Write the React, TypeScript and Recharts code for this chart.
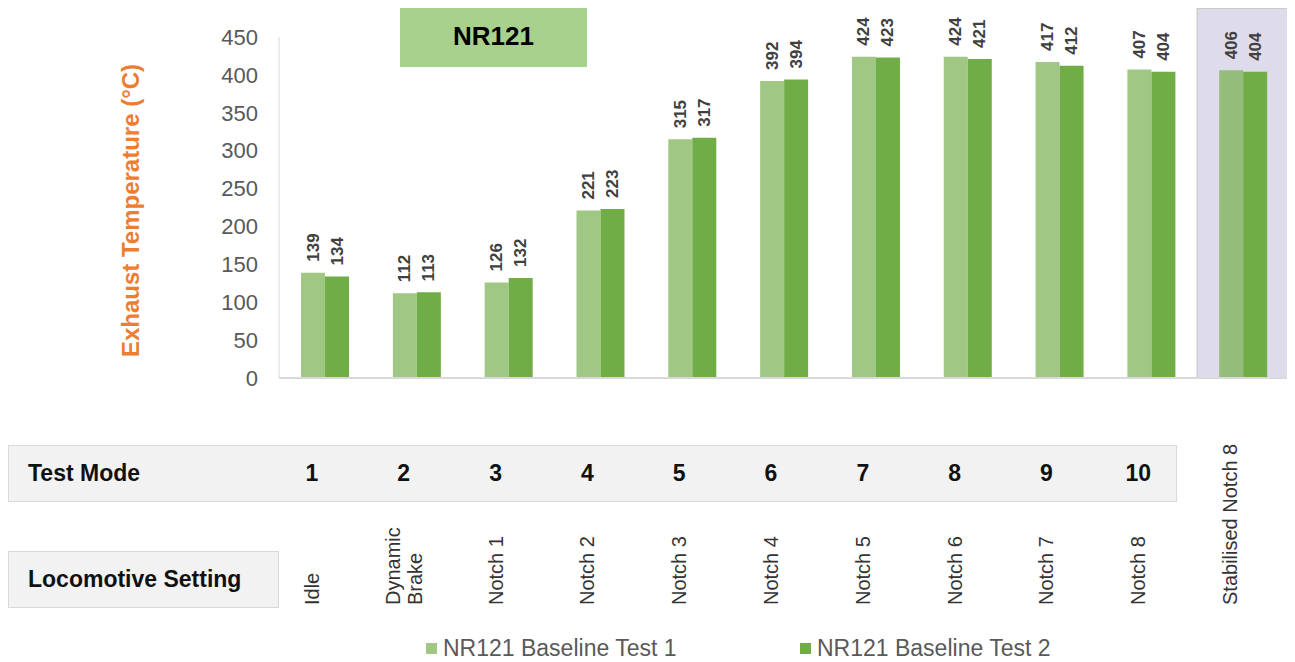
import React from "react";
import { BarChart, Bar, XAxis, YAxis, LabelList, ReferenceArea, Cell } from "recharts";

const categories = [
  "Idle",
  "Dynamic\nBrake",
  "Notch 1",
  "Notch 2",
  "Notch 3",
  "Notch 4",
  "Notch 5",
  "Notch 6",
  "Notch 7",
  "Notch 8",
  "Stabilised Notch 8",
];
const testModes = ["1", "2", "3", "4", "5", "6", "7", "8", "9", "10", ""];
const test1 = [139, 112, 126, 221, 315, 392, 424, 424, 417, 407, 406];
const test2 = [134, 113, 132, 223, 317, 394, 423, 421, 412, 404, 404];
const yTicks = [0, 50, 100, 150, 200, 250, 300, 350, 400, 450];
const seriesNames = ["NR121 Baseline Test 1", "NR121 Baseline Test 2"];
const chartTitle = "NR121";
const yLabel = "Exhaust Temperature (°C)";
const rowLabels = ["Test Mode", "Locomotive Setting"];
const highlightCategory = "Stabilised Notch 8";

const data = categories.map((c, i) => ({
  setting: c,
  mode: testModes[i],
  t1: test1[i],
  t2: test2[i],
}));

const FONT = "'Liberation Sans', Arial, sans-serif";
const LIGHT = "#A0C884";
const LIGHT_HL = "#94BC7B";
const DARK = "#70AD47";

const W = 1287;
const H = 654;

const BarLabel = (props: any) => {
  const { x, y, width, value } = props;
  const cx = Number(x) + Number(width) / 2;
  const cy = Number(y) - 11;
  return (
    <text
      x={cx}
      y={cy}
      transform={`rotate(-90 ${cx} ${cy})`}
      textAnchor="start"
      dominantBaseline="central"
      fontSize={17}
      fontWeight="bold"
      fill="#404040"
      fontFamily={FONT}
    >
      {value}
    </text>
  );
};

const CategoryTick = (props: any) => {
  const { x, payload } = props;
  const idx = payload.index;
  const cx = Number(x) - 13;
  const mode = testModes[idx];
  const lines = String(categories[idx]).split("\n");
  const baseY = 597;
  return (
    <g>
      {mode ? (
        <text
          x={cx}
          y={465}
          textAnchor="middle"
          dominantBaseline="central"
          fontSize={23}
          fontWeight="bold"
          fill="#111"
          fontFamily={FONT}
        >
          {mode}
        </text>
      ) : null}
      {lines.map((ln, i) => {
        const lx = cx + (i - (lines.length - 1) / 2) * 22;
        return (
          <text
            key={i}
            x={lx}
            y={baseY}
            transform={`rotate(-90 ${lx} ${baseY})`}
            textAnchor="start"
            dominantBaseline="central"
            fontSize={20}
            fill="#333"
            fontFamily={FONT}
          >
            {ln}
          </text>
        );
      })}
    </g>
  );
};

const YLabel = (props: any) => {
  const vb = props.viewBox || {};
  const cx = 122;
  const cy = Number(vb.y ?? 29) + Number(vb.height ?? 341) / 2 + 3;
  return (
    <text
      x={cx}
      y={cy}
      transform={`rotate(-90 ${cx} ${cy})`}
      textAnchor="middle"
      dominantBaseline="central"
      fontSize={24}
      fontWeight="bold"
      fill="#ED7D31"
      fontFamily={FONT}
    >
      {yLabel}
    </text>
  );
};

export default function App() {
  const boxStyle: React.CSSProperties = {
    position: "absolute",
    background: "#F2F2F2",
    border: "1px solid #D9D9D9",
    boxSizing: "border-box",
    display: "flex",
    alignItems: "center",
    paddingLeft: 19,
    fontFamily: FONT,
    fontWeight: "bold",
    fontSize: 23,
    color: "#111",
  };
  return (
    <div style={{ position: "relative", width: W, height: H, fontFamily: FONT }}>
      <div style={{ ...boxStyle, left: 0, top: 437, width: 1169, height: 57 }}>{rowLabels[0]}</div>
      <div style={{ ...boxStyle, left: 0, top: 543, width: 271, height: 57 }}>{rowLabels[1]}</div>
      <div
        style={{
          position: "absolute",
          left: 392,
          top: -2,
          width: 187,
          height: 61,
          background: "#A9D18E",
          display: "flex",
          alignItems: "center",
          justifyContent: "center",
          fontWeight: "bold",
          fontSize: 26,
          color: "#000",
        }}
      >
        {chartTitle}
      </div>
      <div style={{ position: "absolute", left: 0, top: 0 }}>
        <BarChart
          width={W}
          height={H}
          data={data}
          margin={{ top: 29, right: 6, left: 191, bottom: 254 }}
          barCategoryGap="24%"
          barGap={0}
        >
          <ReferenceArea
            x1={highlightCategory}
            x2={highlightCategory}
            y1={0}
            y2={488}
            ifOverflow="visible"
            fill="#DEDCEB"
            fillOpacity={1}
            stroke="#BFBFBF"
            strokeWidth={1}
          />
          <XAxis
            dataKey="setting"
            height={30}
            tickLine={false}
            axisLine={{ stroke: "#D9D9D9", strokeWidth: 2 }}
            interval={0}
            tick={<CategoryTick />}
          />
          <YAxis
            width={80}
            domain={[0, 450]}
            ticks={yTicks}
            tickLine={false}
            tickSize={0}
            tickMargin={21}
            axisLine={{ stroke: "#D9D9D9" }}
            tick={{ fontSize: 22, fill: "#595959", fontFamily: FONT }}
            label={<YLabel />}
          />
          <Bar dataKey="t1" name={seriesNames[0]} fill={LIGHT} isAnimationActive={false}>
            {data.map((d, i) => (
              <Cell key={i} fill={d.setting === highlightCategory ? LIGHT_HL : LIGHT} />
            ))}
            <LabelList dataKey="t1" content={<BarLabel />} />
          </Bar>
          <Bar dataKey="t2" name={seriesNames[1]} fill={DARK} isAnimationActive={false}>
            <LabelList dataKey="t2" content={<BarLabel />} />
          </Bar>
        </BarChart>
      </div>
      {seriesNames.map((n, i) => (
        <div
          key={n}
          style={{
            position: "absolute",
            left: i === 0 ? 418 : 792,
            top: 626,
            height: 28,
            display: "flex",
            alignItems: "center",
            fontSize: 23,
            color: "#595959",
            whiteSpace: "nowrap",
          }}
        >
          <span
            style={{
              display: "inline-block",
              width: 11,
              height: 11,
              background: i === 0 ? LIGHT : DARK,
              marginRight: 6,
            }}
          />
          {n}
        </div>
      ))}
    </div>
  );
}
